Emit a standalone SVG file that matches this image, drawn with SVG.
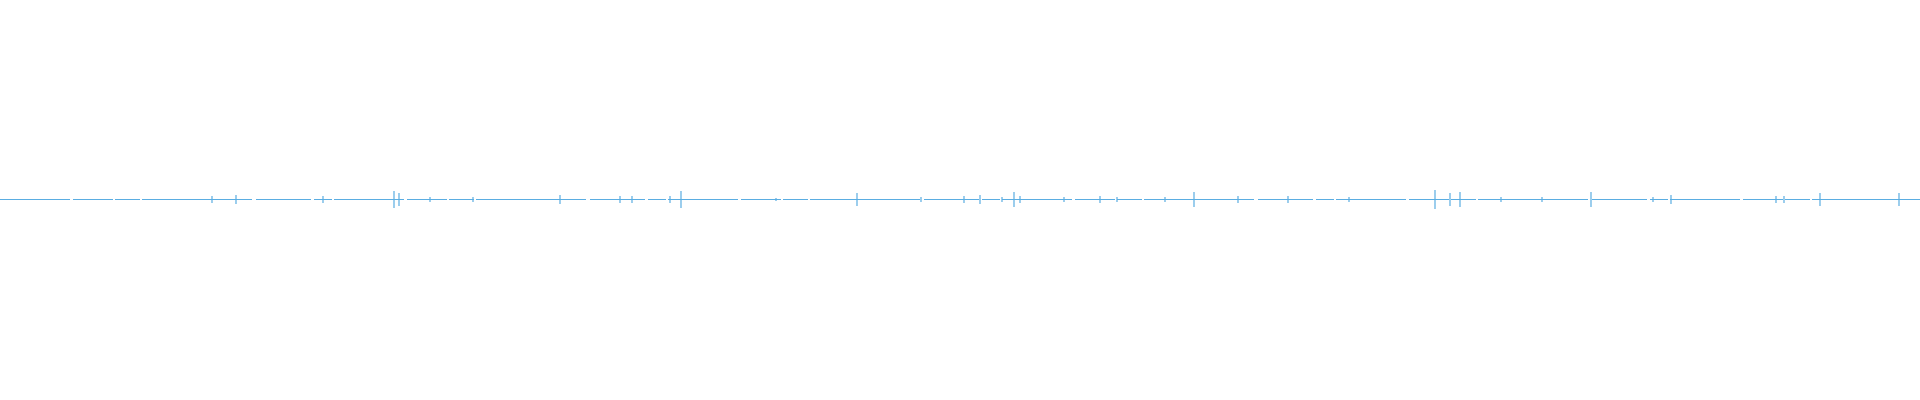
<svg xmlns="http://www.w3.org/2000/svg" width="1920" height="400" viewBox="0 0 1920 400">
<style>.w{stroke:#5aade2;fill:none;stroke-width:1.2}</style>
<rect width="1920" height="400" fill="#fff"/>
<g id="waveform">
<line class="w" x1="0" y1="199.5" x2="1920" y2="199.5" stroke-dasharray="70 3 40 2 25 2 110 4 55 3 18 2"/>
<path class="w" d="M212 196v7M236 195v9M323 196v7M394 191v17M399 193v13M430 197v5M473 197v5M560 195v9M620 196v7M632 196v7M670 196v7M681 191v17M776 198v3M857 193v13M921 197v5M964 196v7M980 195v9M1002 197v5M1014 192v15M1020 196v7M1064 197v5M1100 196v7M1117 197v5M1165 197v5M1194 192v15M1238 196v7M1288 196v7M1349 197v5M1435 190v19M1450 193v13M1460 192v15M1501 197v5M1542 197v5M1591 192v15M1653 197v5M1671 195v9M1776 196v7M1784 196v7M1820 193v13M1899 193v13"/>
</g>
</svg>
